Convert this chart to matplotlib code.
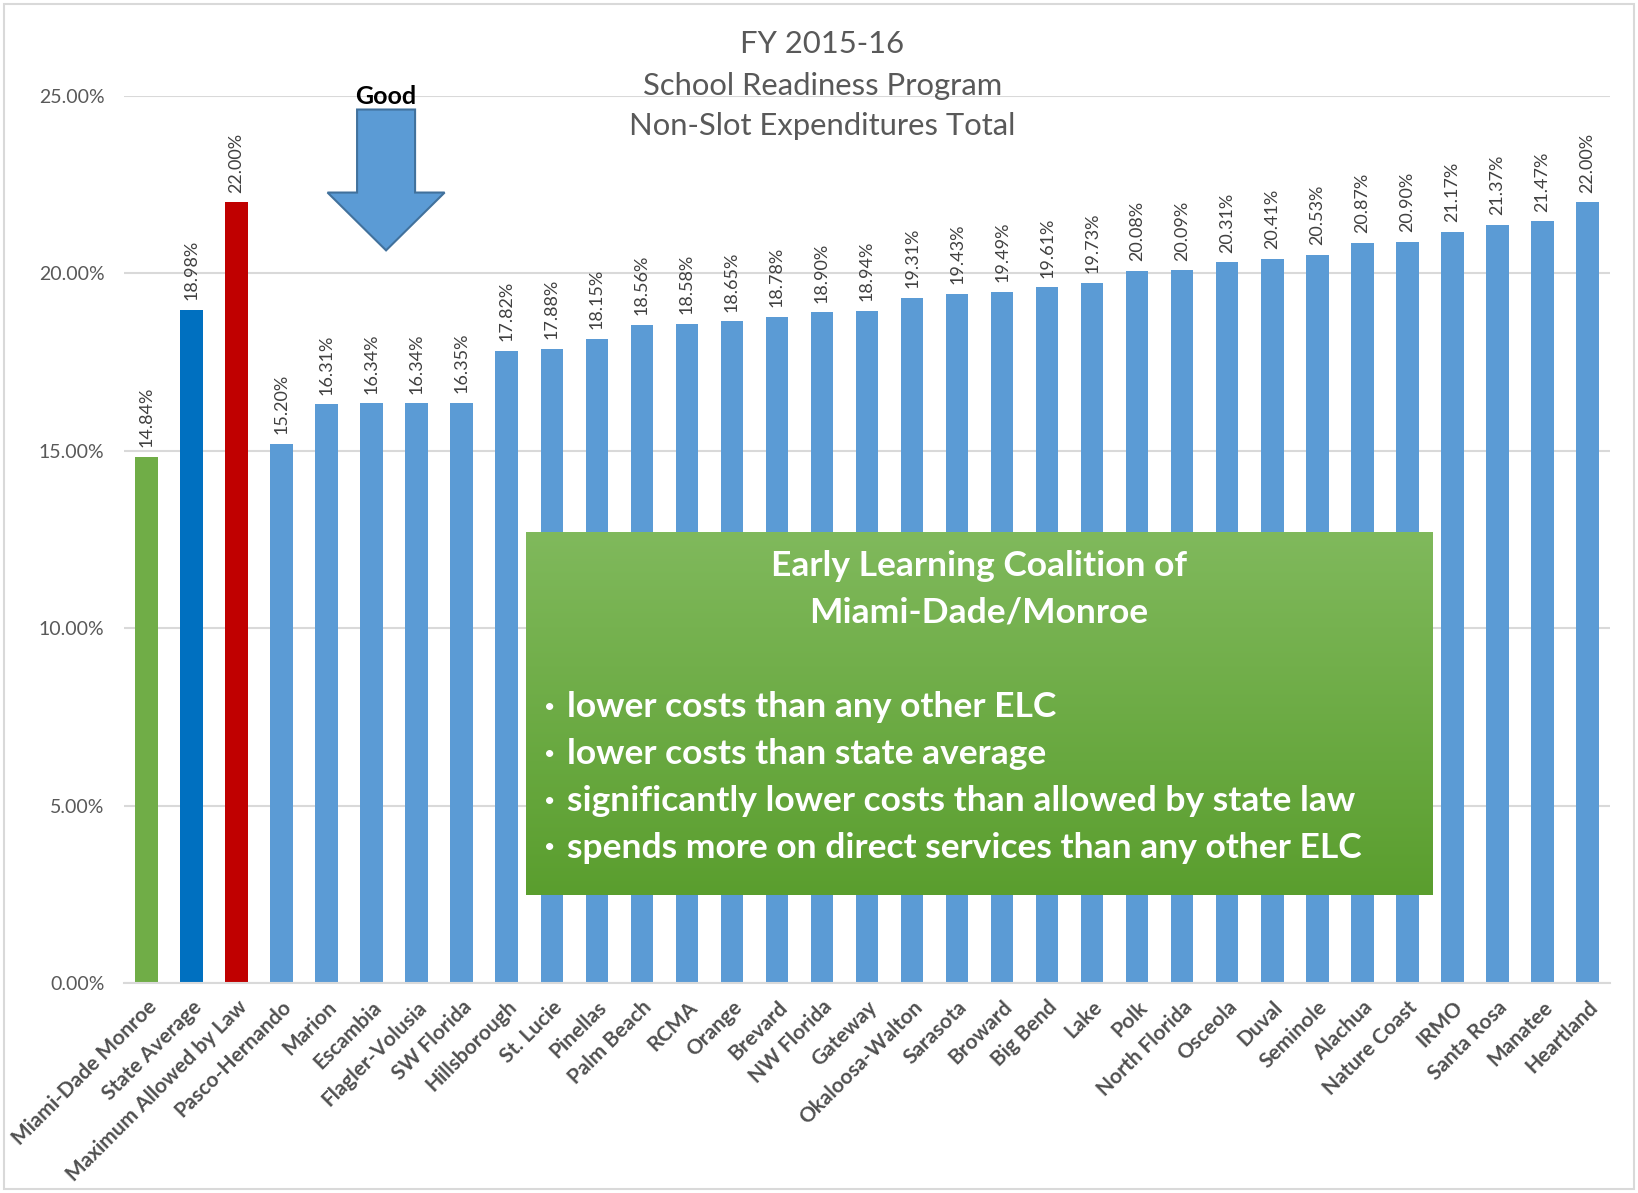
import numpy as np
import matplotlib
matplotlib.use('Agg')
import matplotlib.pyplot as plt
from matplotlib.patches import Polygon, Rectangle
from matplotlib.colors import LinearSegmentedColormap
from matplotlib.ticker import PercentFormatter

plt.rcParams['font.family'] = ['Lato', 'DejaVu Sans']


# Data
coalitions = ['Miami-Dade Monroe', 'State Average', 'Maximum Allowed by Law',
              'Pasco-Hernando', 'Marion', 'Escambia', 'Flagler-Volusia',
              'SW Florida', 'Hillsborough', 'St. Lucie', 'Pinellas', 'Palm Beach',
              'RCMA', 'Orange', 'Brevard', 'NW Florida', 'Gateway',
              'Okaloosa-Walton', 'Sarasota', 'Broward', 'Big Bend', 'Lake', 'Polk',
              'North Florida', 'Osceola', 'Duval', 'Seminole', 'Alachua',
              'Nature Coast', 'IRMO', 'Santa Rosa', 'Manatee', 'Heartland']
pct = [14.84, 18.98, 22.00, 15.20, 16.31, 16.34, 16.34, 16.35, 17.82, 17.88,
       18.15, 18.56, 18.58, 18.65, 18.78, 18.90, 18.94, 19.31, 19.43, 19.49,
       19.61, 19.73, 20.08, 20.09, 20.31, 20.41, 20.53, 20.87, 20.90, 21.17,
       21.37, 21.47, 22.00]
bar_colors = ['#70ad47', '#0070c0', '#c00000'] + ['#5b9bd5'] * (len(pct) - 3)

title_lines = ['FY 2015-16', 'School Readiness Program', 'Non-Slot Expenditures Total']
box_title = ['Early Learning Coalition of', 'Miami-Dade/Monroe']
box_bullets = ['lower costs than any other ELC',
               'lower costs than state average',
               'significantly lower costs than allowed by state law',
               'spends more on direct services than any other ELC']


# Figure / axes
fig = plt.figure(figsize=(16.38, 11.93), dpi=100)
ax = fig.add_axes([0.0757, 0.176, 0.9072, 0.7435])

x = np.arange(len(coalitions))
ax.bar(x, pct, width=0.5, color=bar_colors, zorder=2)
for xi, v in zip(x, pct):
    ax.annotate(f'{v:.2f}%', (xi, v), xytext=(0, 7), textcoords='offset points',
                rotation=90, ha='center', va='bottom', fontsize=13, color='#404040')

ax.set_xlim(-0.5, len(x) - 0.5)
ax.set_ylim(0, 25)
ax.set_yticks(np.arange(0, 26, 5))
ax.yaxis.set_major_formatter(PercentFormatter(decimals=2))
ax.grid(axis='y', color='#d9d9d9', lw=1.5)
ax.set_axisbelow(True)
for s in ['top', 'right', 'left']:
    ax.spines[s].set_visible(False)
ax.spines['bottom'].set_color('#d9d9d9')
ax.spines['bottom'].set_linewidth(1.5)

ax.set_xticks(x, coalitions, rotation=45, ha='right', rotation_mode='anchor',
              fontsize=15, fontweight='bold', color='#505050')
ax.tick_params(axis='x', length=0, pad=10)
ax.tick_params(axis='y', length=0, pad=14, labelsize=14, labelcolor='#595959')


# Green callout box with gradient
bx0, bx1, by0, by1 = 8.43, 28.55, 2.48, 12.70
green = LinearSegmentedColormap.from_list('g', ['#5a9e2e', '#80b95c'])
ax.imshow(np.linspace(0, 1, 256).reshape(-1, 1), cmap=green, origin='lower',
          extent=(bx0, bx1, by0, by1), aspect='auto', zorder=3)
ax.set_xlim(-0.5, len(x) - 0.5)
ax.set_ylim(0, 25)

cx = (bx0 + bx1) / 2
step = 1.32
for i, line in enumerate(box_title):
    ax.text(cx, 11.75 - i * step, line, ha='center', va='center', fontsize=25.5,
            fontweight='bold', color='white', zorder=5)
for i, line in enumerate(box_bullets):
    yy = 7.77 - i * step
    ax.text(8.95, yy, '\u2022', ha='center', va='center', fontsize=14,
            color='white', zorder=5)
    ax.text(9.34, yy, line, ha='left', va='center', fontsize=25.5,
            fontweight='bold', color='white', zorder=5)


# "Good" arrow
ac, sw, hw = 5.32, 0.644, 1.3
top, base, tip = 24.62, 22.28, 20.65
arrow = Polygon([(ac - sw, top), (ac + sw, top), (ac + sw, base), (ac + hw, base),
                 (ac, tip), (ac - hw, base), (ac - sw, base)], closed=True,
                facecolor='#5b9bd5', edgecolor='#41719c', lw=1.5, zorder=4)
ax.add_patch(arrow)
ax.text(ac, 25, 'Good', ha='center', va='center', fontsize=18,
        fontweight='bold', color='black', zorder=5)


# Title
for line, ypx in zip(title_lines, [44, 86, 126]):
    fig.text(0.502, 1 - ypx / 1193, line, ha='center', va='center',
             fontsize=22.3, color='#595959')

# Chart border
fig.add_artist(Rectangle((4 / 1638, 4 / 1193), 1630 / 1638, 1185 / 1193,
                         transform=fig.transFigure, fill=False,
                         ec='#d9d9d9', lw=1.5))

fig.savefig('out.png', dpi=100)
